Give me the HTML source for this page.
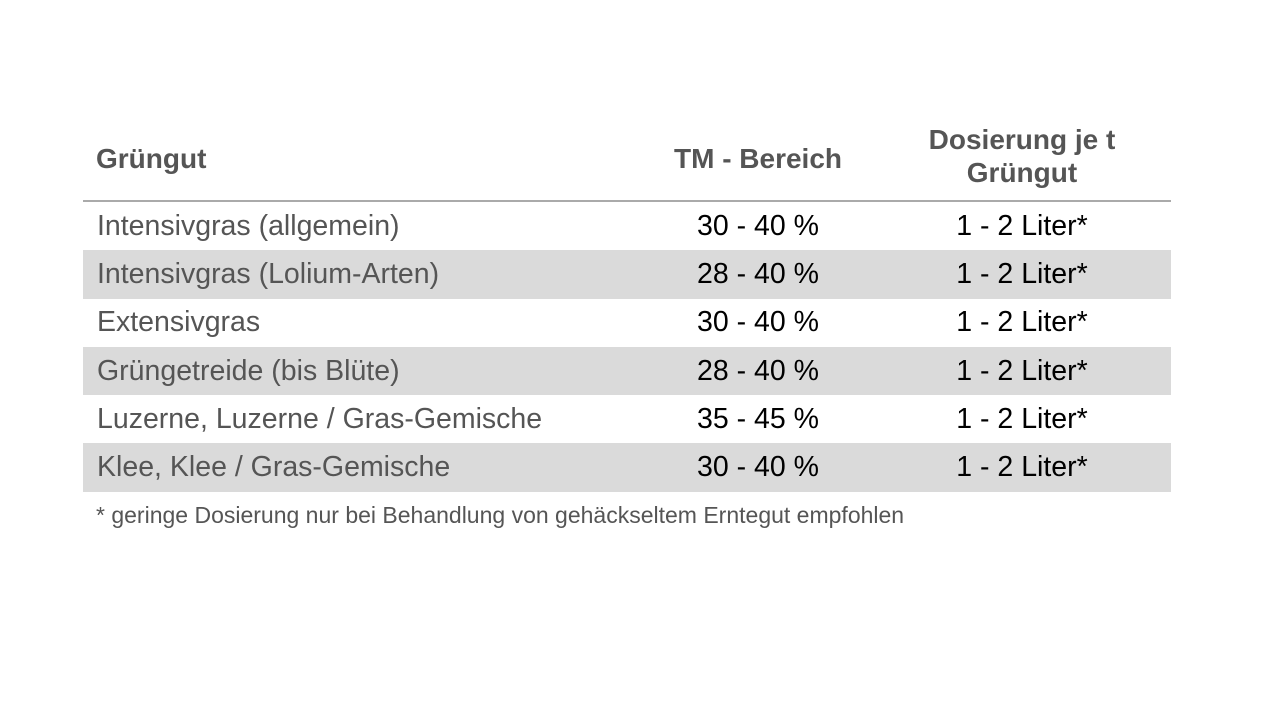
<!DOCTYPE html>
<html><head><meta charset="utf-8"><style>
body{margin:0;width:1263px;height:721px;background:#fff;position:relative;overflow:hidden;font-family:"Liberation Sans",Arial,sans-serif}
.a{position:absolute;white-space:nowrap}
.h{font-weight:bold;color:#555;font-size:28px;text-align:center;line-height:33px}
.row{position:absolute;left:83px;width:1088px;height:48.5px}
.g{background:#dadada}
.c1{position:absolute;left:14px;top:8px;font-size:28.5px;color:#555;white-space:nowrap}
.c2{position:absolute;left:575px;width:200px;text-align:center;top:8px;font-size:28.5px;color:#000}
.c3{position:absolute;left:839px;width:200px;text-align:center;top:8px;font-size:28.5px;color:#000}
</style></head><body>
<div class="a h" style="left:96px;top:142px;text-align:left">Grüngut</div>
<div class="a h" style="left:658px;top:142px;width:200px">TM - Bereich</div>
<div class="a h" style="left:897px;top:123px;width:250px">Dosierung je t<br>Grüngut</div>
<div class="a" style="left:83px;top:200px;width:1088px;height:2px;background:#aaa"></div>
<div id="rows"></div>
<div class="a" style="left:96px;top:502px;font-size:23px;color:#555">* geringe Dosierung nur bei Behandlung von gehäckseltem Erntegut empfohlen</div>
<script>
const names=["Intensivgras (allgemein)","Intensivgras (Lolium-Arten)","Extensivgras","Grüngetreide (bis Blüte)","Luzerne, Luzerne / Gras-Gemische","Klee, Klee / Gras-Gemische"];
const tm=["30 - 40 %","28 - 40 %","30 - 40 %","28 - 40 %","35 - 45 %","30 - 40 %"];
const dos=["1 - 2 Liter*","1 - 2 Liter*","1 - 2 Liter*","1 - 2 Liter*","1 - 2 Liter*","1 - 2 Liter*"];
const host=document.getElementById('rows');
names.forEach((n,i)=>{
 const r=document.createElement('div');
 r.className='row'+(i%2?' g':'');
 r.style.top=(202+i*48.2)+'px';
 
 
 const a=document.createElement('div');a.className='c1';a.textContent=n;
 
 
 const b=document.createElement('div');b.className='c2';b.textContent=tm[i];
 
 
 const c=document.createElement('div');c.className='c3';c.textContent=dos[i];
 
 
 r.append(a,b,c);host.appendChild(r);
});
</script>
</body></html>
